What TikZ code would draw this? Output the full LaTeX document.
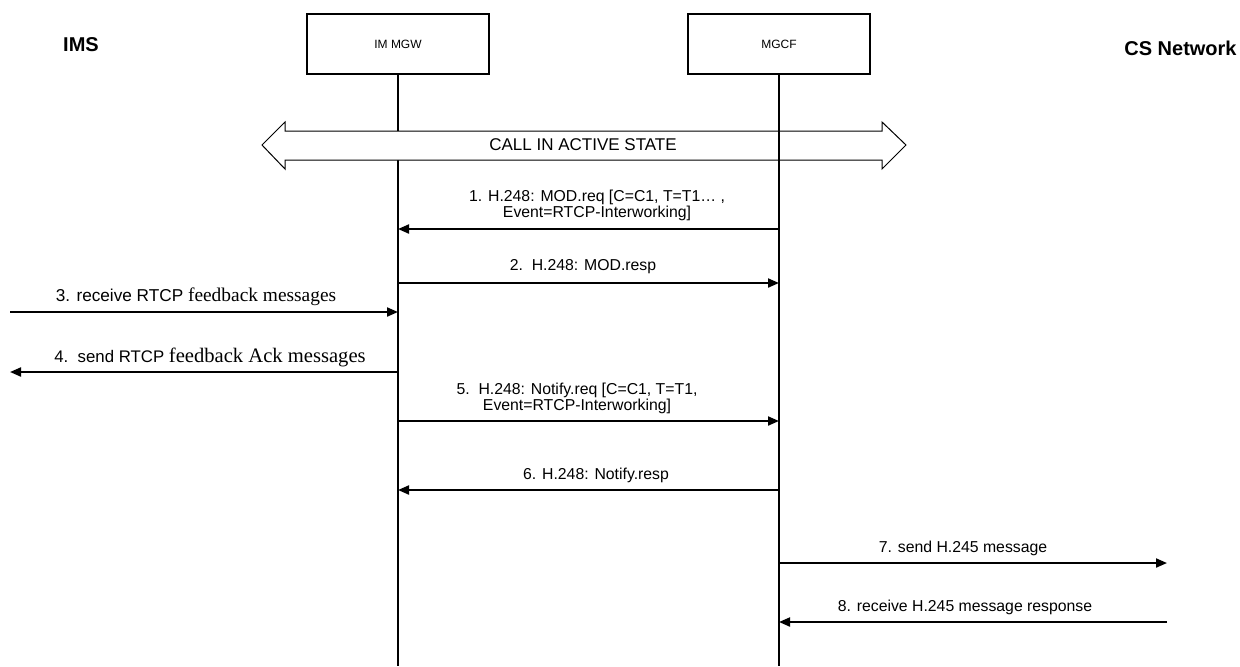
\documentclass[tikz,border=0pt]{standalone}
\usepackage{fontspec}
\setmainfont{Liberation Sans}
\newfontfamily\tnr{Liberation Serif}
\usetikzlibrary{arrows.meta}
\begin{document}
\begin{tikzpicture}[x=0.5pt,y=-0.5pt,
  lifebox/.style={draw,line width=0.6pt,minimum width=91pt,minimum height=30pt,inner sep=0pt,font=\fontsize{6}{7}\selectfont},
  lifeline/.style={line width=0.6pt},
  bigarrow/.style={draw,fill=white,line width=0.5pt,line join=miter},
  msg/.style={line width=1pt,-{Triangle[length=5.5pt,width=4.5pt]}},
  lbl/.style={inner sep=0pt,align=center,font=\fontsize{7.9}{8}\selectfont},
  side/.style={inner sep=0pt,font=\bfseries\fontsize{10}{12}\selectfont}]
\useasboundingbox (0,0) rectangle (1240,666);
% side labels
\node[side] (ims) at (81,45) {IMS};
\node[side,anchor=east] (cs) at (1237,48) {CS Network};
% entities
\node[lifebox] (mgw) at (398,44) {IM MGW};
\node[lifebox] (mgcf) at (779,44) {MGCF};
\coordinate (mgwend) at (398,666);
\coordinate (mgcfend) at (779,666);
\draw[lifeline] (mgw.south) -- (mgwend);
% call in active state
\draw[bigarrow] (262,145) -- (285,122) -- (285,131) -- (882,131) -- (882,122) -- (906,145)
  -- (882,169) -- (882,160) -- (285,160) -- (285,169) -- cycle;
\node[inner sep=0pt,font=\fontsize{8.5}{9}\selectfont] (state) at (583,145) {CALL IN ACTIVE STATE};
\draw[lifeline] (mgcf.south) -- (mgcfend);
% message end points
\coordinate (m1a) at (779,229); \coordinate (m1b) at (398,229);
\coordinate (m2a) at (398,283); \coordinate (m2b) at (779,283);
\coordinate (m3a) at (10,312);  \coordinate (m3b) at (398,312);
\coordinate (m4a) at (398,372); \coordinate (m4b) at (10,372);
\coordinate (m5a) at (398,421); \coordinate (m5b) at (779,421);
\coordinate (m6a) at (779,490); \coordinate (m6b) at (398,490);
\coordinate (m7a) at (779,563); \coordinate (m7b) at (1167,563);
\coordinate (m8a) at (1167,622); \coordinate (m8b) at (779,622);
\draw[msg] (m1a) -- (m1b);
\draw[msg] (m2a) -- (m2b);
\draw[msg] (m3a) -- (m3b);
\draw[msg] (m4a) -- (m4b);
\draw[msg] (m5a) -- (m5b);
\draw[msg] (m6a) -- (m6b);
\draw[msg] (m7a) -- (m7b);
\draw[msg] (m8a) -- (m8b);
% labels
\node[lbl] (l1) at (597,205) {1. H.248: MOD.req [C=C1, T=T1… ,\\Event=RTCP-Interworking]};
\node[lbl] (l2) at (583,267) {2.\ \ H.248: MOD.resp};
\node[lbl] (l3) at (196,297) {\fontsize{8.6}{9}\selectfont 3. receive RTCP {\tnr\fontsize{9.7}{10}\selectfont feedback messages}};
\node[lbl] (l4) at (210,357) {\fontsize{8.4}{9}\selectfont 4.\ \ send RTCP {\tnr\fontsize{10.3}{11}\selectfont feedback Ack messages}};
\node[lbl] (l5) at (577,398) {5.\ \ H.248: Notify.req [C=C1, T=T1,\\Event=RTCP-Interworking]};
\node[lbl] (l6) at (596,475) {6. H.248: Notify.resp};
\node[lbl] (l7) at (963,548) {7. send H.245 message};
\node[lbl] (l8) at (965,607) {8. receive H.245 message response};
\end{tikzpicture}
\end{document}
